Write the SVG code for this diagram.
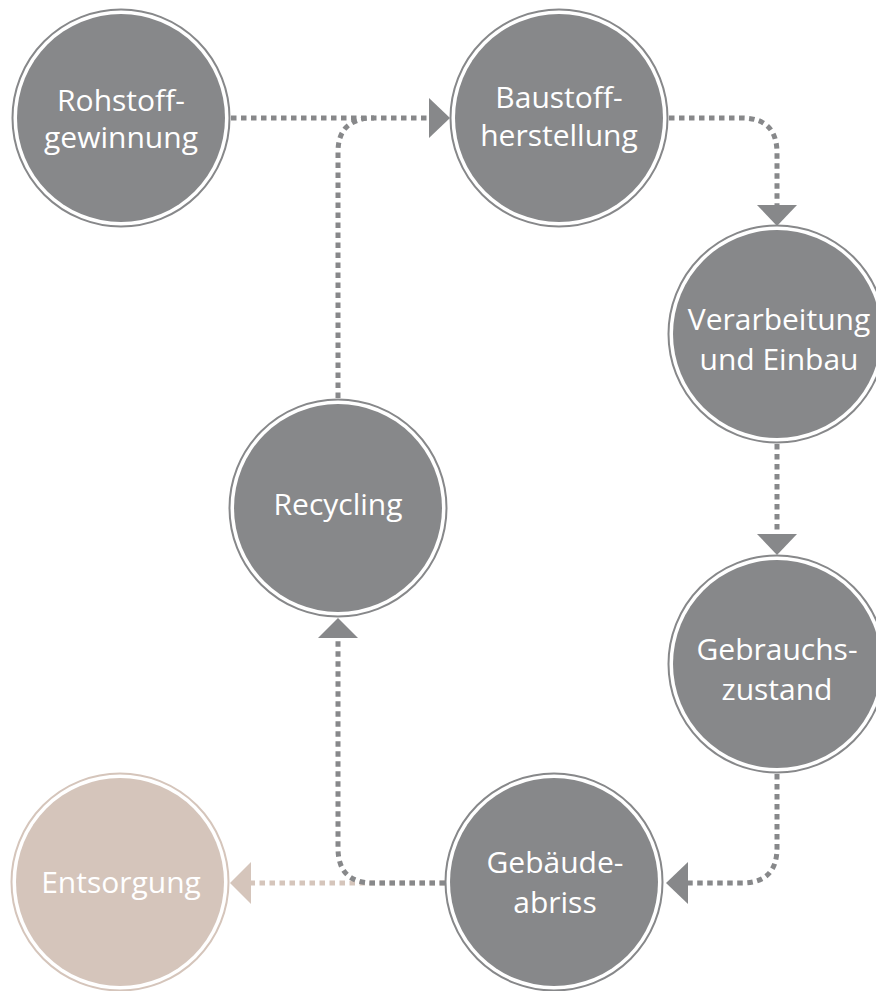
<svg xmlns="http://www.w3.org/2000/svg" width="876" height="991" viewBox="0 0 876 991">
<style>
.ring{fill:none;stroke:#87888a;stroke-width:2}
.fill{fill:#87888a}
.ringb{fill:none;stroke:#d5c5bb;stroke-width:2}
.fillb{fill:#d5c5bb}
.lbl{font-family:"Open Sans","Noto Sans",sans-serif;font-size:30px;fill:#ffffff;text-anchor:middle}
.dot{fill:none;stroke:#87888a;stroke-width:5;stroke-dasharray:5.5 4.5}
.dotb{fill:none;stroke:#d5c5bb;stroke-width:5;stroke-dasharray:5.5 4.5}
.ah{fill:#87888a}
.ahb{fill:#d5c5bb}
</style>
<rect width="876" height="991" fill="#ffffff"/>
<g id="connectors">
<path class="dotb" d="M445,883 H250"/>
<polygon class="ahb" points="251,862 251,904 230,883"/>
<path class="dot" d="M231,118 H430"/>
<polygon class="ah" points="429,98 429,138 450,118"/>
<path class="dot" d="M338,398 V152 Q338,118 374,118"/>
<path class="dot" d="M669,118 H742 Q777,118 777,153 V206"/>
<polygon class="ah" points="757,205 797,205 777,226"/>
<path class="dot" d="M777,444 V535"/>
<polygon class="ah" points="757,534 797,534 777,555"/>
<path class="dot" d="M777,774 V848 Q777,883 742,883 H687"/>
<polygon class="ah" points="688,862 688,904 666,883"/>
<path class="dot" d="M445,883 H373 Q338,883 338,848 V637"/>
<polygon class="ah" points="318,638 358,638 338,618"/>
</g>
<g id="rohstoff">
<circle class="ring" cx="121" cy="118" r="108.5"/>
<circle class="fill" cx="121" cy="118" r="104"/>
<text class="lbl" x="121" y="111">Rohstoff-</text>
<text class="lbl" x="121" y="148">gewinnung</text>
</g>
<g id="baustoff">
<circle class="ring" cx="559" cy="118" r="108.5"/>
<circle class="fill" cx="559" cy="118" r="104"/>
<text class="lbl" x="559" y="108">Baustoff-</text>
<text class="lbl" x="559" y="146">herstellung</text>
</g>
<g id="verarbeitung">
<circle class="ring" cx="777" cy="334" r="108.5"/>
<circle class="fill" cx="777" cy="334" r="104"/>
<text class="lbl" x="779" y="330">Verarbeitung</text>
<text class="lbl" x="779" y="370">und Einbau</text>
</g>
<g id="gebrauch">
<circle class="ring" cx="777" cy="664" r="108.5"/>
<circle class="fill" cx="777" cy="664" r="104"/>
<text class="lbl" x="777" y="660">Gebrauchs-</text>
<text class="lbl" x="777" y="700">zustand</text>
</g>
<g id="gebaeude">
<circle class="ring" cx="554" cy="882" r="108.5"/>
<circle class="fill" cx="554" cy="882" r="104"/>
<text class="lbl" x="555" y="873">Gebäude-</text>
<text class="lbl" x="555" y="913">abriss</text>
</g>
<g id="recycling">
<circle class="ring" cx="338" cy="508" r="108.5"/>
<circle class="fill" cx="338" cy="508" r="104"/>
<text class="lbl" x="338" y="515">Recycling</text>
</g>
<g id="entsorgung">
<circle class="ringb" cx="120" cy="882" r="108.5"/>
<circle class="fillb" cx="120" cy="882" r="104"/>
<text class="lbl" x="121" y="893">Entsorgung</text>
</g>
</svg>
